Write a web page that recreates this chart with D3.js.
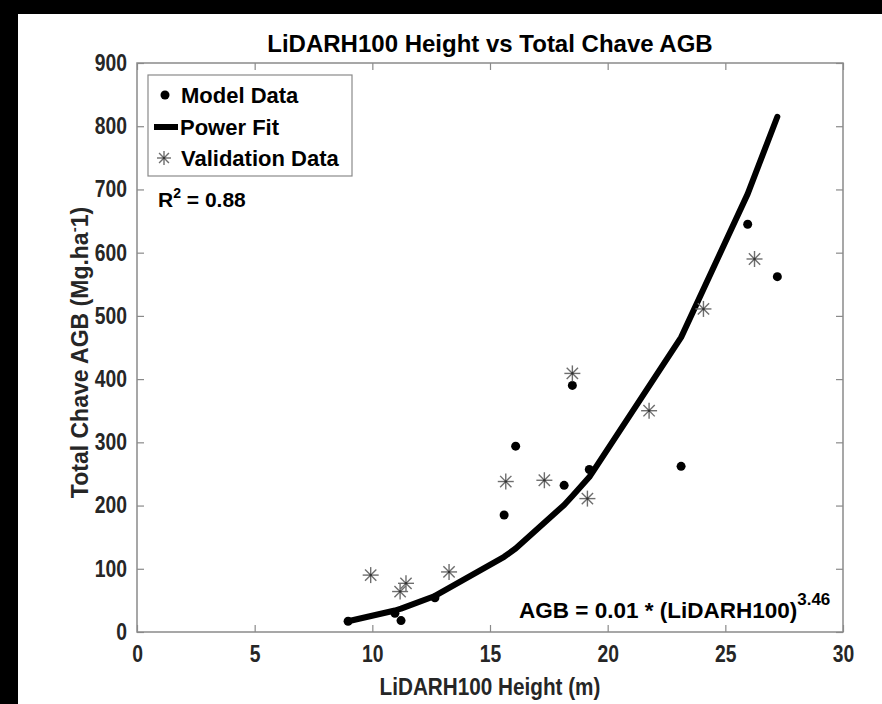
<!DOCTYPE html>
<html>
<head>
<meta charset="utf-8">
<script src="https://cdn.jsdelivr.net/npm/d3@7"></script>
<style>
  html, body { margin: 0; padding: 0; background: #fff; }
  svg { display: block; }
  text { font-family: "Liberation Sans", Arial, Helvetica, sans-serif; font-weight: bold; }
</style>
</head>
<body>
<svg id="chart" width="882" height="704"></svg>
<script>
// ---- data ----
const modelX   = [8.97, 10.96, 11.22, 12.66, 15.6, 16.09, 18.15, 18.5, 19.22, 23.12, 25.95, 27.21];
const modelY   = [17, 29.5, 18, 54, 185, 294, 232, 390, 257, 262, 645, 562];
const fitY     = [17, 34, 37, 57, 119, 132, 201, 215, 245, 466, 693, 815];
const validX   = [9.93, 11.18, 11.43, 13.26, 15.67, 17.31, 18.5, 19.14, 21.76, 24.07, 26.24];
const validY   = [90, 64, 77, 95, 238, 240, 409, 211, 350, 511, 590];
const xTicks   = [0, 5, 10, 15, 20, 25, 30];
const yTicks   = [0, 100, 200, 300, 400, 500, 600, 700, 800, 900];
const legendLabels = ["Model Data", "Power Fit", "Validation Data"];
const titleText = "LiDARH100 Height vs Total Chave AGB";
const xLabel = "LiDARH100 Height (m)";

const svg = d3.select("#chart");
const W = 882, H = 704;
const L = 137, R = 843, T = 63, B = 632;
const axisGray = "#8a8a8a";
const textCol = "#262626";

// squeeze glyphs horizontally (reference font is a narrow face)
function condense(sel, f) {
  sel.each(function () {
    const len = this.getComputedTextLength();
    d3.select(this).attr("textLength", len * f).attr("lengthAdjust", "spacingAndGlyphs");
  });
}

// background and black frame strips
svg.append("rect").attr("x", 0).attr("y", 0).attr("width", W).attr("height", H).attr("fill", "#fff");
svg.append("rect").attr("x", 0).attr("y", 0).attr("width", 18).attr("height", H).attr("fill", "#000");
svg.append("rect").attr("x", 0).attr("y", 0).attr("width", W).attr("height", 14).attr("fill", "#000");

const x = d3.scaleLinear().domain([0, 30]).range([L, R]);
const y = d3.scaleLinear().domain([0, 900]).range([B, T]);

function styleAxis(g) {
  g.select(".domain").remove();
  g.selectAll(".tick line").attr("stroke", axisGray).attr("stroke-width", 1.2);
  g.selectAll(".tick text").attr("fill", textCol)
    .style("font-size", "23px").style("font-weight", "bold")
    .style("font-family", '"Liberation Sans", Arial, sans-serif');
}

const gxb = svg.append("g").attr("transform", `translate(0,${B})`)
  .call(d3.axisBottom(x).tickValues(xTicks).tickFormat(d3.format("d")).tickSizeInner(-7).tickSizeOuter(0).tickPadding(14))
  .call(styleAxis);
svg.append("g").attr("transform", `translate(0,${T})`)
  .call(d3.axisTop(x).tickValues(xTicks).tickFormat("").tickSizeInner(-7).tickSizeOuter(0))
  .call(styleAxis);
const gyl = svg.append("g").attr("transform", `translate(${L},0)`)
  .call(d3.axisLeft(y).tickValues(yTicks).tickFormat(d3.format("d")).tickSizeInner(-7).tickSizeOuter(0).tickPadding(10))
  .call(styleAxis);
svg.append("g").attr("transform", `translate(${R},0)`)
  .call(d3.axisRight(y).tickValues(yTicks).tickFormat("").tickSizeInner(-7).tickSizeOuter(0))
  .call(styleAxis);
condense(gxb.selectAll(".tick text"), 0.84);
condense(gyl.selectAll(".tick text"), 0.84);

// plot box
svg.append("rect").attr("x", L).attr("y", T).attr("width", R - L).attr("height", B - T)
  .attr("fill", "none").attr("stroke", axisGray).attr("stroke-width", 1.5);

// fit line
const fitData = modelX.map((v, i) => [v, fitY[i]]);
svg.append("path").datum(fitData)
  .attr("d", d3.line().x(d => x(d[0])).y(d => y(d[1])))
  .attr("fill", "none").attr("stroke", "#000").attr("stroke-width", 6)
  .attr("stroke-linejoin", "round").attr("stroke-linecap", "round");

// model dots
svg.append("g").selectAll("circle").data(modelX.map((v, i) => [v, modelY[i]])).join("circle")
  .attr("cx", d => x(d[0])).attr("cy", d => y(d[1])).attr("r", 4.5).attr("fill", "#000");

// asterisk marker
function asterisk(g, cx, cy, r) {
  const a = r * Math.SQRT1_2;
  const segs = [[0, -r, 0, r], [-r, 0, r, 0], [-a, -a, a, a], [-a, a, a, -a]];
  segs.forEach(s => g.append("line")
    .attr("x1", cx + s[0]).attr("y1", cy + s[1]).attr("x2", cx + s[2]).attr("y2", cy + s[3])
    .attr("stroke", "#6e6e6e").attr("stroke-width", 1.4));
  g.append("circle").attr("cx", cx).attr("cy", cy).attr("r", 1.3).attr("fill", "#333");
}
const vg = svg.append("g");
validX.forEach((v, i) => asterisk(vg, x(v), y(validY[i]), 8));

// legend
const lg = svg.append("g");
lg.append("rect").attr("x", 148).attr("y", 75).attr("width", 204).attr("height", 101)
  .attr("fill", "#fff").attr("stroke", axisGray).attr("stroke-width", 1.2);
lg.append("circle").attr("cx", 165).attr("cy", 95).attr("r", 4.5).attr("fill", "#000");
lg.append("line").attr("x1", 154).attr("x2", 178).attr("y1", 127).attr("y2", 127)
  .attr("stroke", "#000").attr("stroke-width", 6);
asterisk(lg, 164, 158, 7);
const legY = [102.5, 135, 166];
const legX = [181, 180, 181];
legendLabels.forEach((t, i) => lg.append("text").attr("x", legX[i]).attr("y", legY[i])
  .attr("fill", "#000").style("font-size", "22px").text(t));

// R^2 annotation
const r2 = svg.append("text").attr("x", 158).attr("y", 206.5).attr("fill", "#000").style("font-size", "21px");
r2.append("tspan").text("R");
r2.append("tspan").attr("dy", -9).style("font-size", "14px").text("2");
r2.append("tspan").attr("dy", 9).text(" = 0.88");

// equation
const eq = svg.append("text").attr("x", 519).attr("y", 618).attr("fill", "#000").style("font-size", "22.5px");
eq.append("tspan").text("AGB = 0.01 * (LiDARH100)");
eq.append("tspan").attr("dy", -13).style("font-size", "17px").text("3.46");

// title
svg.append("text").attr("x", (L + R) / 2).attr("y", 52).attr("text-anchor", "middle")
  .attr("fill", "#000").style("font-size", "24px").text(titleText);

// x label
const xl = svg.append("text").attr("x", (L + R) / 2).attr("y", 695).attr("text-anchor", "middle")
  .attr("fill", textCol).style("font-size", "23px").text(xLabel);
condense(xl, 0.9);

// y label
const yl = svg.append("text").attr("transform", `translate(88,${(T + B) / 2 + 5}) rotate(-90)`)
  .attr("text-anchor", "middle").attr("fill", textCol).style("font-size", "23px");
yl.append("tspan").text("Total Chave AGB (Mg.ha");
yl.append("tspan").attr("dy", -9).style("font-size", "15px").text("-");
yl.append("tspan").attr("dy", 9).text("1)");
</script>
</body>
</html>
